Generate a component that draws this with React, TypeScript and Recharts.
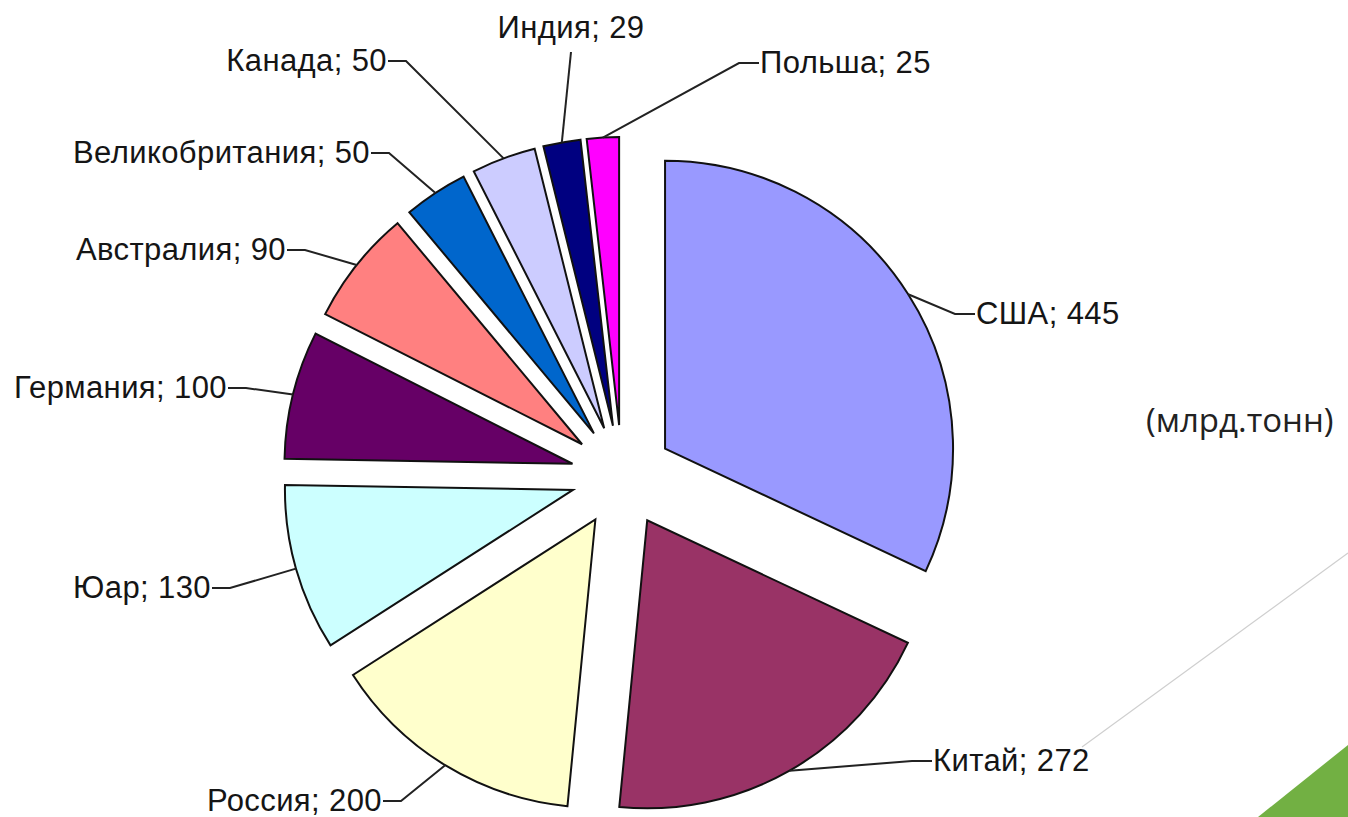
import { PieChart, Pie, Sector } from "recharts"

const countries = ["США", "Китай", "Россия", "Юар", "Германия", "Австралия", "Великобритания", "Канада", "Индия", "Польша"]
const reserves = [445, 272, 200, 130, 100, 90, 50, 50, 29, 25]
const colors = ["#9999FF", "#993366", "#FFFFCC", "#CCFFFF", "#660066", "#FF8080", "#0066CC", "#CCCCFF", "#000080", "#FF00FF"]
const unitLabel = "(млрд.тонн)"

// end of each leader line, next to its text
const labelPos = [
  { x: 975, y: 314, anchor: "start" },
  { x: 932, y: 761, anchor: "start" },
  { x: 383, y: 801, anchor: "end" },
  { x: 212, y: 588, anchor: "end" },
  { x: 228, y: 388, anchor: "end" },
  { x: 287, y: 250, anchor: "end" },
  { x: 371, y: 153, anchor: "end" },
  { x: 388, y: 61, anchor: "end" },
  { x: 571, y: 52, anchor: "middle" },
  { x: 759, y: 63, anchor: "start" },
]

const data = countries.map((name, i) => ({ name, value: reserves[i] }))

const RAD = Math.PI / 180
const EXPLODE = 51
const FONT = "'Liberation Sans', Arial, sans-serif"

// draws the exploded slice plus its leader line and label
function renderSlice(props: any) {
  const { cx, cy, midAngle, outerRadius, startAngle, endAngle, index } = props
  const cos = Math.cos(-midAngle * RAD)
  const sin = Math.sin(-midAngle * RAD)
  const ox = cx + EXPLODE * cos
  const oy = cy + EXPLODE * sin
  const sx = ox + outerRadius * cos
  const sy = oy + outerRadius * sin
  const pos = labelPos[index]

  let points: string
  let tx = pos.x
  let ty = pos.y + 10
  if (pos.anchor === "start") {
    points = `${sx},${sy} ${pos.x - 20},${pos.y} ${pos.x},${pos.y}`
    tx = pos.x + 1
  } else if (pos.anchor === "end") {
    points = `${sx},${sy} ${pos.x + 18},${pos.y} ${pos.x},${pos.y}`
    tx = pos.x - 1
  } else {
    points = `${sx},${sy} ${pos.x},${pos.y}`
    ty = pos.y - 14
  }

  return (
    <g key={`slice-${index}`}>
      <Sector
        cx={ox}
        cy={oy}
        innerRadius={0}
        outerRadius={outerRadius}
        startAngle={startAngle}
        endAngle={endAngle}
        fill={colors[index]}
        stroke="#111"
        strokeWidth={2}
      />
      <polyline points={points} fill="none" stroke="#222" strokeWidth={2} />
      <text
        x={tx}
        y={ty}
        textAnchor={pos.anchor}
        fontFamily={FONT}
        fontSize={31}
        letterSpacing={0.4}
        fill="#151515"
      >
        {`${countries[index]}; ${reserves[index]}`}
      </text>
    </g>
  )
}

export default function App() {
  return (
    <div style={{ position: "absolute", left: 0, top: 0, width: 1348, height: 817, background: "#fff", overflow: "hidden" }}>
      <svg width={1348} height={817} style={{ position: "absolute", left: 0, top: 0 }}>
        <line x1={1082} y1={747} x2={1348} y2={553} stroke="#cfcfcf" strokeWidth={1.2} />
        <polygon points="1258,817 1348,745 1348,817" fill="#72B043" />
        <text x={1146} y={432} fontFamily="'Open Sans', 'Noto Sans', sans-serif" fontSize={33} fill="#222">
          {unitLabel}
        </text>
      </svg>
      <div style={{ position: "absolute", left: 0, top: 0 }}>
        <PieChart width={1348} height={817} margin={{ top: 0, right: 0, bottom: 0, left: 0 }}>
          <Pie
            data={data}
            dataKey="value"
            nameKey="name"
            cx={622}
            cy={476}
            innerRadius={0}
            outerRadius={288}
            startAngle={90}
            endAngle={-270}
            fill="none"
            stroke="none"
            label={renderSlice}
            labelLine={false}
            isAnimationActive={false}
          />
        </PieChart>
      </div>
    </div>
  )
}
